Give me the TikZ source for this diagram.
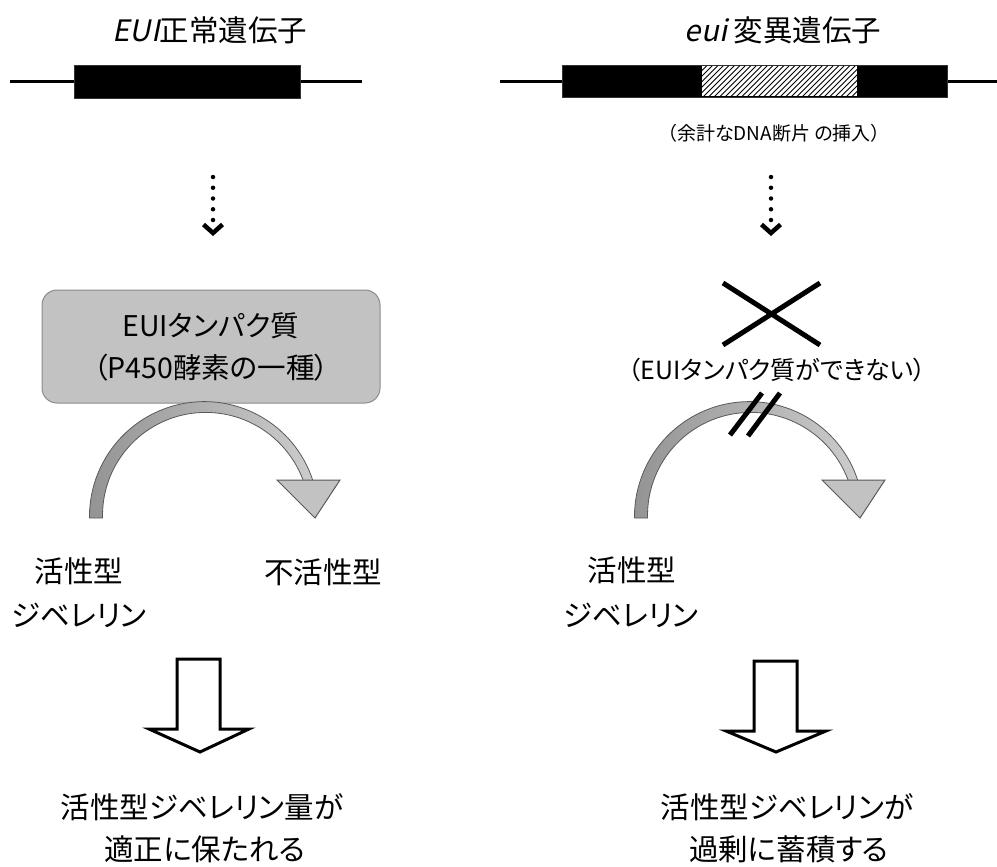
\documentclass[tikz,border=0pt]{standalone}
\usepackage{fontspec}
\setmainfont{Noto Sans CJK JP}[RawFeature={+palt}]
\newfontfamily\slantfont{Noto Sans CJK JP}[FakeSlant=0.2,RawFeature={+palt}]
\definecolor{banddark}{gray}{0.58}
\definecolor{bandlight}{gray}{0.80}
\definecolor{bandedge}{gray}{0.35}
\definecolor{headgray}{gray}{0.76}
\definecolor{boxgray}{gray}{0.76}
\definecolor{boxedge}{gray}{0.55}
\tikzset{
  lbl/.style={inner sep=0pt, font=\fontsize{29.5}{31}\selectfont},
  lblsm/.style={inner sep=0pt, font=\fontsize{25}{27}\selectfont},
  tiny/.style={inner sep=0pt, font=\fontsize{19}{21}\selectfont},
  dna/.style={line width=3pt},
  genebox/.style={fill=black, draw=black!80, line width=0.6pt},
  dotarrow/.style={line width=4.5pt, line cap=round, dash pattern=on 0pt off 10.75pt},
  chev/.style={line width=4.5pt, miter limit=10},
  cross/.style={line width=5pt},
  hollow/.style={draw=black, line width=3pt, fill=white, line join=miter},
  enzbox/.style={draw=boxedge, fill=boxgray, rounded corners=15pt, line width=1pt,
    minimum width=338pt, minimum height=113pt, align=center,
    font=\fontsize{28.5}{42}\selectfont},
  curvarrow/.pic={
    \shade[left color=banddark, right color=bandlight, draw=bandedge, line width=0.8pt]
      (-115.5,2)
      -- plot[domain=180:18, samples=60] ({(109+(9+(\x-18)/40)/2)*cos(\x)}, {-(109+(9+(\x-18)/40)/2)*sin(\x)})
      -- plot[domain=18:180, samples=60] ({(109-(9+(\x-18)/40)/2)*cos(\x)}, {-(109-(9+(\x-18)/40)/2)*sin(\x)})
      -- (-102.5,2) -- cycle;
    \filldraw[fill=headgray, draw=bandedge, line width=1pt] (72,-36) -- (135,-36) -- (110,2) -- cycle;
  }
}
\begin{document}
\begin{tikzpicture}[x=1pt,y=-1pt]
\useasboundingbox (0,0) rectangle (997,867);

% titles
\node[lbl] (titleL) at (210,30) {{\slantfont EUI}正常遺伝子};
\node[lbl] (titleR) at (783,30) {{\slantfont eui} 変異遺伝子};

% normal gene
\coordinate (gLa) at (10,81.5);
\coordinate (gLb) at (362,81.5);
\draw[dna] (gLa) -- (gLb);
\path[genebox] (74,65) rectangle (300,98);

% mutant gene
\coordinate (gRa) at (500,81.5);
\coordinate (gRb) at (997,81.5);
\draw[dna] (gRa) -- (gRb);
\path[genebox] (562,65) rectangle (947,97);
\fill[white] (702,66) rectangle (857,96);
\begin{scope}
  \clip (702,66) rectangle (857,96);
  \foreach \i in {0,...,35} {
    \draw[line width=1pt] ({670+\i*5.5},97) -- ({701+\i*5.5},66);
  }
\end{scope}
\node[tiny] (insert) at (774,133) {（余計なDNA断片 の挿入）};

% dotted arrows
\coordinate (dL1) at (213,177);
\coordinate (dL2) at (213,221);
\draw[dotarrow] (dL1) -- (dL2);
\draw[chev] (203.5,224.5) -- (213,233) -- (222.5,224.5);
\coordinate (dR1) at (771,177);
\coordinate (dR2) at (771,221);
\draw[dotarrow] (dR1) -- (dR2);
\draw[chev] (761.5,224.5) -- (771,233) -- (780.5,224.5);

% enzyme box
\node[enzbox] (enz) at (211,346.5) {EUIタンパク質\\（P450酵素の一種）};

% cross
\draw[cross] (723,283) -- (820,345);
\draw[cross] (723,345) -- (820,283);
\node[lblsm] (cant) at (777,370) {（EUIタンパク質ができない）};

% curved arrows
\pic at (205,516) {curvarrow};
\pic at (750,516) {curvarrow};

% break marks
\draw[cross] (730,435) -- (762,393);
\draw[cross] (748,436) -- (780,393);

% labels
\node[lbl] (actL1) at (79,571) {活性型};
\node[lbl] (actL2) at (79,615) {ジベレリン};
\node[lbl] (inact) at (323,572) {不活性型};
\node[lbl] (actR1) at (632,570) {活性型};
\node[lbl] (actR2) at (631,615) {ジベレリン};

% hollow arrows
\draw[hollow] (177,659) -- (220,659) -- (220,729) -- (249,729) -- (200,752) -- (149,729) -- (177,729) -- cycle;
\draw[hollow] (754,661) -- (797,661) -- (797,731) -- (826,731) -- (776,752) -- (726,731) -- (754,731) -- cycle;

% results
\node[lbl] (resL1) at (202,807) {活性型ジベレリン量が};
\node[lbl] (resL2) at (205,849) {適正に保たれる};
\node[lbl] (resR1) at (787,807) {活性型ジベレリンが};
\node[lbl] (resR2) at (789,849) {過剰に蓄積する};
\end{tikzpicture}
\end{document}
